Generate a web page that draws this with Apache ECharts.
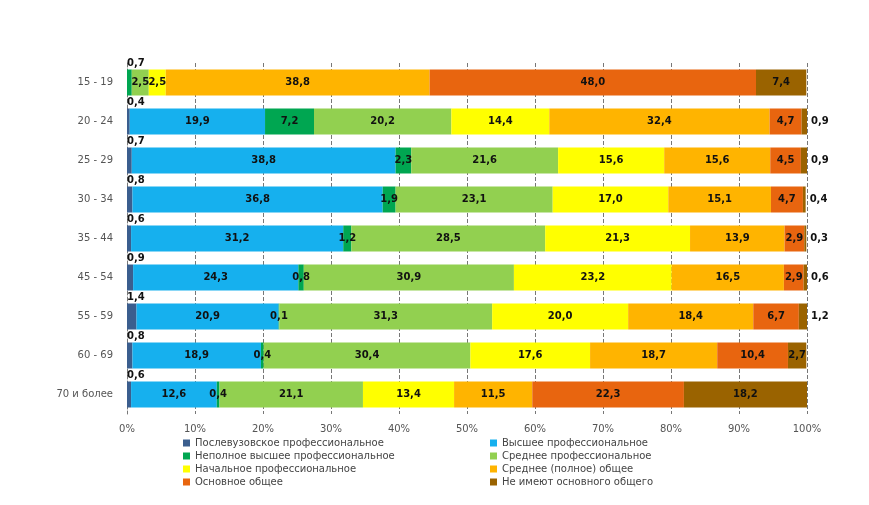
<!DOCTYPE html>
<html>
<head>
<meta charset="utf-8">
<script src="https://cdn.jsdelivr.net/npm/echarts@6/dist/echarts.min.js"></script>
<style>
  html, body { margin: 0; padding: 0; background: #fff; }
  #chart { width: 869px; height: 505px; }
</style>
</head>
<body>
<div id="chart"></div>
<script>
// возрастные группы
const ages = ['15 - 19', '20 - 24', '25 - 29', '30 - 34', '35 - 44', '45 - 54', '55 - 59', '60 - 69', '70 и более'];
const ticks = ['0%', '10%', '20%', '30%', '40%', '50%', '60%', '70%', '80%', '90%', '100%'];

// уровни образования, %
const postgrad   = [0,    0.4,  0.7,  0.8,  0.6,  0.9,  1.4,  0.8,  0.6];
const higher     = [0,    19.9, 38.8, 36.8, 31.2, 24.3, 20.9, 18.9, 12.6];
const incomplete = [0.7,  7.2,  2.3,  1.9,  1.2,  0.8,  0.1,  0.4,  0.4];
const secProf    = [2.5,  20.2, 21.6, 23.1, 28.5, 30.9, 31.3, 30.4, 21.1];
const initProf   = [2.5,  14.4, 15.6, 17.0, 21.3, 23.2, 20.0, 17.6, 13.4];
const secGeneral = [38.8, 32.4, 15.6, 15.1, 13.9, 16.5, 18.4, 18.7, 11.5];
const basic      = [48.0, 4.7,  4.5,  4.7,  2.9,  2.9,  6.7,  10.4, 22.3];
const noBasic    = [7.4,  0.9,  0.9,  0.4,  0.3,  0.6,  1.2,  2.7,  18.2];

const names = [
    'Послевузовское профессиональное',
    'Высшее профессиональное',
    'Неполное высшее профессиональное',
    'Среднее профессиональное',
    'Начальное профессиональное',
    'Среднее (полное) общее',
    'Основное общее',
    'Не имеют основного общего'
];
const colors = ['#3B5E8E', '#16B0EE', '#00A651', '#92D050', '#FFFF00', '#FFB400', '#E8650F', '#9A6300'];
const values = [postgrad, higher, incomplete, secProf, initProf, secGeneral, basic, noBasic];

const fmt = function (p) {
    return p.value ? p.value.toFixed(1).replace('.', ',') : '';
};

// подписи над полосой (слева сверху)
const aboveLabel = { show: true, position: [0, -11] };
// подписи справа от полосы
const rightLabel = { show: true, position: 'right', distance: 4 };

function buildData(idx) {
    return values[idx].map(function (v, i) {
        let item = { value: v };
        if (idx === 0) {
            item.label = v ? aboveLabel : { show: false };
        }
        if (idx === 2 && i === 0) {
            item.label = aboveLabel;
        }
        if (idx === 7 && v < 2) {
            item.label = rightLabel;
        }
        return item;
    });
}

const series = names.map(function (n, idx) {
    return {
        name: n,
        type: 'bar',
        stack: 'total',
        barWidth: 26,
        itemStyle: { color: colors[idx] },
        label: {
            show: true,
            position: 'inside',
            formatter: fmt,
            color: '#111',
            fontFamily: 'DejaVu Sans',
            fontWeight: 'bold',
            fontSize: 10
        },
        data: buildData(idx)
    };
});

const legendText = { fontFamily: 'DejaVu Sans', fontSize: 10, color: '#444' };

const option = {
    animation: false,
    grid: { left: 127, right: 62, top: 63, bottom: 91 },
    legend: [{
        data: [names[0], names[2], names[4], names[6]],
        orient: 'vertical',
        left: 178,
        top: 433,
        itemWidth: 7,
        itemHeight: 7,
        itemGap: 3,
        icon: 'rect',
        textStyle: legendText
    }, {
        data: [names[1], names[3], names[5], names[7]],
        orient: 'vertical',
        left: 485,
        top: 433,
        itemWidth: 7,
        itemHeight: 7,
        itemGap: 3,
        icon: 'rect',
        textStyle: legendText
    }],
    xAxis: {
        type: 'value',
        min: 0,
        max: 100,
        interval: 10,
        axisLine: { show: false },
        axisTick: { show: false },
        axisLabel: {
            formatter: function (v) { return ticks[Math.round(v / 10)]; },
            fontFamily: 'DejaVu Sans',
            fontSize: 10,
            color: '#555',
            margin: 10
        },
        splitLine: { show: true, lineStyle: { color: '#777', type: 'dashed', width: 1 } }
    },
    yAxis: {
        type: 'category',
        data: ages,
        inverse: true,
        axisLine: { show: true, lineStyle: { color: '#777', type: 'dashed' } },
        axisTick: { show: false },
        axisLabel: {
            fontFamily: 'DejaVu Sans',
            fontSize: 10,
            color: '#555',
            margin: 14
        }
    },
    series: series
};

const chart = echarts.init(document.getElementById('chart'));
chart.setOption(option);
</script>
</body>
</html>
